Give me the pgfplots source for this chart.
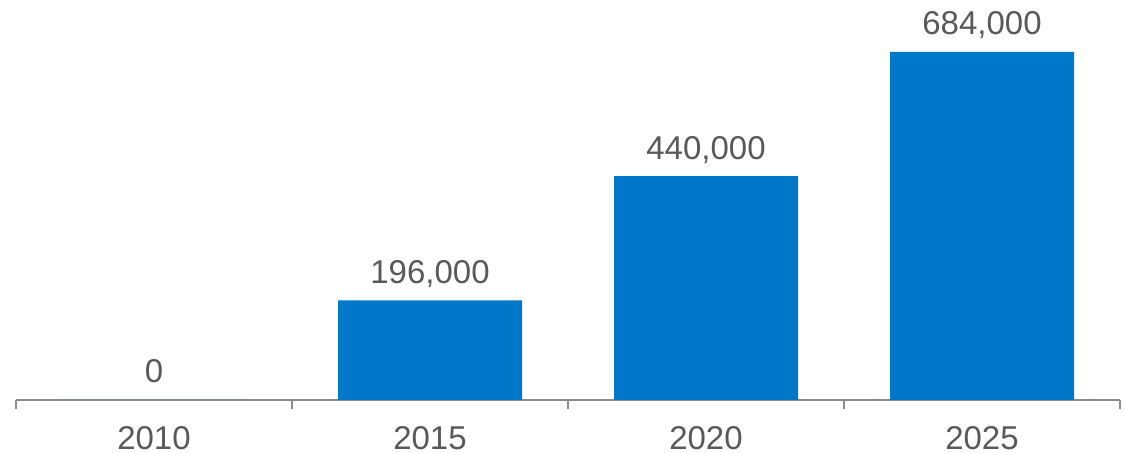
\documentclass[border=0pt]{standalone}
\usepackage{pgfplots}
\pgfplotsset{compat=1.18}
\usepackage{fontspec}
\setmainfont{Liberation Sans}
\definecolor{barblue}{HTML}{0077C8}
\definecolor{txtgray}{HTML}{595959}
\definecolor{axgray}{HTML}{8C8C8C}
\begin{document}
\begin{tikzpicture}
\begin{axis}[
  scale only axis,
  width=552pt, height=200pt,
  xmin=-0.5, xmax=3.5,
  ymin=0, ymax=786207,
  axis x line*=bottom,
  axis y line=none,
  x axis line style={axgray, line width=1pt, -},
  xtick={0,1,2,3},
  xticklabels={2010,2015,2020,2025},
  major x tick style={draw=none},
  minor xtick={-0.5,0.5,1.5,2.5,3.5},
  minor x tick style={axgray, line width=1pt},
  minor tick length=4.5pt,
  tick align=outside,
  xticklabel style={font=\fontsize{16.5}{18}\selectfont, text=txtgray, anchor=base, inner sep=0pt, yshift=-20.5pt},
  /pgf/number format/assume math mode=true,
  ybar, bar width=92pt,
  nodes near coords={\pgfmathprintnumber[fixed,precision=0,1000 sep={,}]{\pgfplotspointmeta}},
  nodes near coords align={vertical},
  every node near coord/.append style={font=\fontsize{16.5}{18}\selectfont, text=txtgray, anchor=base, inner sep=0pt, yshift=8.5pt},
  clip=false,
]
\addplot[fill=barblue, draw=none] coordinates {(0,0) (1,196000) (2,440000) (3,684000)};
\end{axis}
\pgfresetboundingbox
\path[use as bounding box] (-8pt,-26.5pt) rectangle (554pt,200pt);
\end{tikzpicture}
\end{document}
